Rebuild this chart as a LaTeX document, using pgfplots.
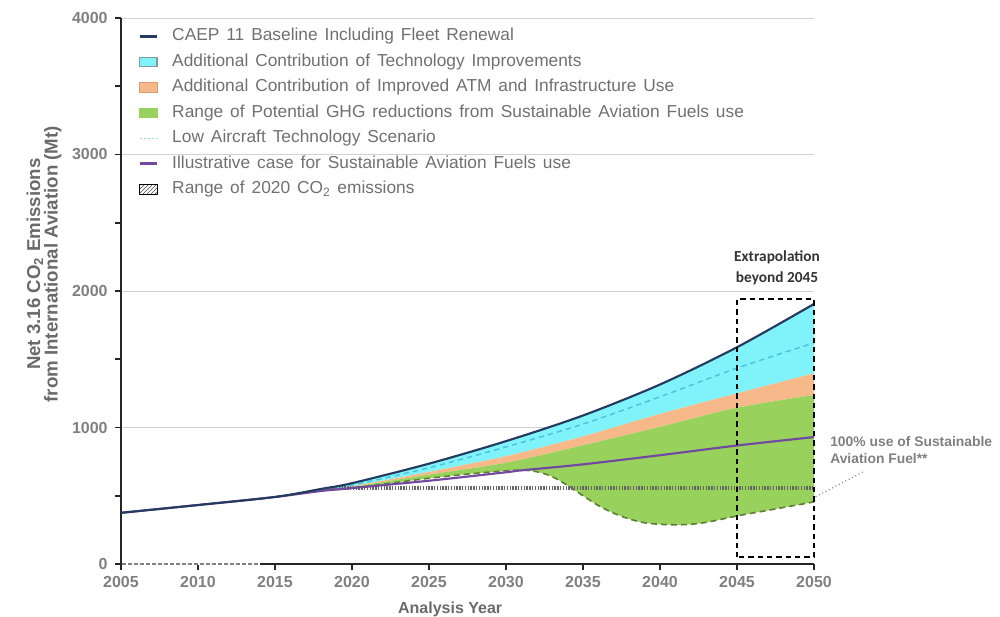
\documentclass[border=0pt]{standalone}
\usepackage{fontspec}
\setmainfont{Liberation Sans}
\newfontfamily\carlito{Carlito}
\usepackage{pgfplots}
\usepackage{pgfplotstable}
\pgfplotsset{compat=1.18}
\usepgfplotslibrary{fillbetween}
\usetikzlibrary{patterns}

\definecolor{navy}{HTML}{243A5E}
\definecolor{cyanfill}{HTML}{80F3FA}
\definecolor{orangefill}{HTML}{F8B98A}
\definecolor{greenfill}{HTML}{98D15C}
\definecolor{cyanline}{HTML}{4CC2DC}
\definecolor{purpleline}{HTML}{7348A0}
\definecolor{oliveline}{HTML}{5E7D35}
\definecolor{txtgray}{HTML}{707070}
\definecolor{tickgray}{HTML}{808080}
\definecolor{lblgray}{HTML}{6A6A6A}

\newcommand\legfont{\fontsize{13}{15}\selectfont\spaceskip=0.4em plus 0.05em\relax}

% CAEP 11 baseline incl. fleet renewal
\pgfplotstableread{
year val
2005 375
2010 432
2015 491
2018 550
2020 592
2025 735
2030 900
2035 1088
2040 1315
2045 1588
2050 1905
}\tbase
% low aircraft technology scenario
\pgfplotstableread{
year val
2018 545
2020 578
2025 705
2030 858
2035 1025
2040 1225
2045 1435
2050 1620
}\tlow
% lower edge of technology contribution
\pgfplotstableread{
year val
2015 491
2018 540
2020 570
2025 675
2030 790
2035 935
2040 1100
2045 1250
2050 1397
}\ttech
% lower edge of ATM / infrastructure contribution
\pgfplotstableread{
year val
2015 491
2018 538
2020 565
2025 655
2030 742
2035 870
2040 1005
2045 1145
2050 1238
}\tatm
% 100% SAF (lower edge of SAF range)
\pgfplotstableread{
year val
2015 491
2018 537
2020 556
2025 628
2028 664
2030 683
2031 688
2032 676
2033 640
2034 575
2035 500
2036 428
2037 372
2038 330
2039 302
2040 291
2041 287
2042 291
2043 305
2044 328
2045 352
2046 373
2047 393
2048 414
2049 434
2050 455
}\tsafmin
% illustrative SAF case
\pgfplotstableread{
year val
2005 375
2010 432
2015 491
2018 535
2020 556
2025 610
2030 672
2031 686
2035 730
2040 797
2045 868
2050 930
}\tsaf

\pgfplotsset{
  leglinestyle/.style={legend image code/.code={\draw[##1] (0pt,0pt) -- (13pt,0pt);}},
  legareastyle/.style={legend image code/.code={\draw[##1] (0pt,-3.5pt) rectangle (13pt,3.5pt);}},
}

\begin{document}
\begin{tikzpicture}
\begin{axis}[
  at={(0,0)}, anchor=south west,
  scale only axis, width=519.75pt, height=409.5pt,
  xmin=2005, xmax=2050, ymin=0, ymax=4000,
  axis x line*=bottom, axis y line*=left,
  axis line style={line width=1.4pt, black!85},
  xtick={2005,2010,...,2050}, ytick={0,1000,...,4000},
  minor y tick num=1,
  tick align=outside,
  major tick length=4.5pt, minor tick length=4.5pt,
  tick style={line width=1.2pt, black!85},
  ymajorgrids, major grid style={gray!35, line width=0.7pt},
  /pgf/number format/1000 sep={},
  /pgf/number format/assume math mode=true,
  ticklabel style={font=\bfseries\fontsize{12}{14}\selectfont, text=tickgray},
  yticklabel style={xshift=-2pt},
  xticklabel style={yshift=-1pt},
  xlabel={Analysis Year},
  xlabel style={at={(axis description cs:0.475,-0.0825)}, anchor=center,
    font=\bfseries\fontsize{12}{14}\selectfont, text=lblgray},
  ylabel={Net 3.16 CO\textsubscript{2} Emissions\\from International Aviation (Mt)},
  ylabel style={at={(axis description cs:-0.111,0.549)}, anchor=center, align=center,
    font=\bfseries\fontsize{14}{13}\selectfont, text=lblgray},
  clip=false,
  legend cell align=left,
  legend style={at={(0.0245,0.99)}, anchor=north west, draw=none, fill=none,
    inner sep=0pt, row sep=0pt,
    font=\legfont, text=txtgray,
    nodes={inner xsep=0pt, inner ysep=3.5pt, text height=9.4pt, text depth=2.7pt},
    /tikz/every odd column/.append style={column sep=10.5pt}},
]
\addlegendimage{leglinestyle, draw=navy, line width=2pt}
\addlegendentry{CAEP 11 Baseline Including Fleet Renewal}
\addlegendimage{legareastyle, fill=cyanfill, draw=gray!80!cyan, line width=1pt}
\addlegendentry{Additional Contribution of Technology Improvements}
\addlegendimage{legareastyle, fill=orangefill, draw=orangefill!85!black, line width=0.6pt}
\addlegendentry{Additional Contribution of Improved ATM and Infrastructure Use}
\addlegendimage{legareastyle, fill=greenfill, draw=greenfill}
\addlegendentry{Range of Potential GHG reductions from Sustainable Aviation Fuels use}
\addlegendimage{leglinestyle, draw=cyanline!60, line width=1pt, dash pattern=on 1.5pt off 1.5pt}
\addlegendentry{Low Aircraft Technology Scenario}
\addlegendimage{leglinestyle, draw=purpleline, line width=2pt}
\addlegendentry{Illustrative case for Sustainable Aviation Fuels use}
\addlegendimage{legareastyle, draw=none, pattern=north east lines, pattern color=black!70}
\addlegendentry{Range of 2020 CO\textsubscript{2} emissions}

% boundary paths
\addplot[name path=base, draw=none, smooth, forget plot] table {\tbase};
\addplot[name path=tech, draw=none, smooth, forget plot] table {\ttech};
\addplot[name path=atm, draw=none, smooth, forget plot] table {\tatm};
\addplot[name path=safmin, draw=none, smooth, forget plot] table {\tsafmin};

% stacked wedges
\addplot[fill=cyanfill, draw=none, forget plot] fill between[of=base and tech];
\addplot[fill=orangefill, draw=none, forget plot] fill between[of=tech and atm];
\addplot[fill=greenfill, draw=none, forget plot] fill between[of=atm and safmin];

% lines
\addplot[cyanline, line width=1.1pt, dash pattern=on 4pt off 3pt, smooth, forget plot] table {\tlow};
\addplot[oliveline, line width=1.2pt, dash pattern=on 4.5pt off 3pt, smooth, forget plot] table {\tsafmin};
\addplot[gray!80!black, line width=2.4pt, dash pattern=on 1pt off 1.1pt, forget plot] coordinates {(2018.6,557) (2050,557)};
\addplot[purpleline, line width=1.6pt, smooth, forget plot] table {\tsaf};
\addplot[navy, line width=1.6pt, smooth, forget plot] table {\tbase};

% lighter dashed start of the x axis
\addplot[white, line width=1.6pt, forget plot] coordinates {(2005.05,0) (2014,0)};
\addplot[gray, line width=0.9pt, dash pattern=on 3pt off 1.5pt, forget plot] coordinates {(2005.05,0) (2014,0)};

% extrapolation box
\addplot[black, line width=1.5pt, dash pattern=on 4pt off 3pt, forget plot]
  coordinates {(2045,50) (2045,1940) (2050,1940) (2050,50) (2045,50)};

\node[font=\carlito\bfseries\fontsize{11.5}{15.5}\selectfont, text=black!80, align=center]
  at (axis cs:2047.6,2170) {Extrapolation\\beyond 2045};
\node[font=\bfseries\fontsize{10.4}{12.5}\selectfont, text=tickgray, align=left, anchor=west, inner sep=0pt]
  at (axis cs:2051.04,835) {100\% use of Sustainable\\Aviation Fuel**};
\draw[gray, line width=0.8pt, dotted] (axis cs:2050.1,493) -- (axis cs:2053.2,676);
\end{axis}
\pgfresetboundingbox
\path[use as bounding box] (-90.75pt,-39.75pt) rectangle (659.25pt,423pt);
\end{tikzpicture}
\end{document}
